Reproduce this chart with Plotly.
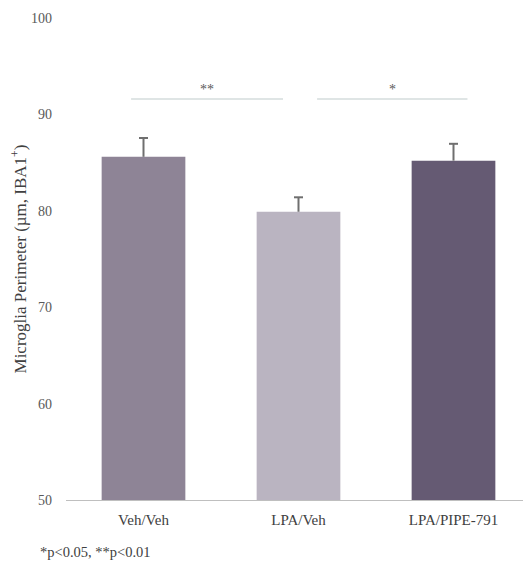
import plotly.graph_objects as go

categories = ["Veh/Veh", "LPA/Veh", "LPA/PIPE-791"]
means = [85.6, 79.9, 85.2]
sem = [1.95, 1.5, 1.75]
bar_colors = ["#8e8496", "#bab4c1", "#655a73"]
y_ticks = [50, 60, 70, 80, 90, 100]

# significance brackets: (from category index, to category index, y value, label)
sig_pairs = [(0, 1, 91.6, "**"), (1, 2, 91.6, "*")]

FONT = "Liberation Serif, Times New Roman, serif"

# page is rendered with an 8px body margin: size figure so the plot lands right
W, H = 523, 554
ML, MR, MT, MB = 58, 0, 10, 62
PW, PH = W - ML - MR, H - MT - MB

fig = go.Figure()
fig.add_trace(go.Bar(
    x=list(range(len(categories))), y=[m - 50 for m in means], base=50,
    marker=dict(color=bar_colors, line=dict(width=0)),
    width=0.54,
    showlegend=False,
    hoverinfo="skip",
))

# upward-only error bars (stem + top cap), built from the data arrays
cap = 4.5 / 155
ex, ey = [], []
for i, (m, s) in enumerate(zip(means, sem)):
    ex += [i, i, None, i - cap, i + cap, None]
    ey += [m, m + s, None, m + s, m + s, None]
fig.add_trace(go.Scatter(x=ex, y=ey, mode="lines",
                         line=dict(color="#6f6f6f", width=2),
                         showlegend=False, hoverinfo="skip"))

# bracket line offsets (in category units) relative to the compared bars
bracket_offsets = [(-0.08, -0.10), (0.12, 0.09)]
shapes = []
annotations = []
for (a, b, yv, lab), (o0, o1) in zip(sig_pairs, bracket_offsets):
    x0, x1 = a + o0, b + o1
    shapes.append(dict(type="line", xref="x", yref="y",
                       x0=x0, x1=x1, y0=yv, y1=yv,
                       line=dict(color="#d5dcdc", width=1.5)))
    annotations.append(dict(x=(x0 + x1) / 2, y=yv, xref="x", yref="y",
                            text=lab, showarrow=False, yanchor="bottom",
                            font=dict(family=FONT, size=14, color="#595959")))

# footnote at page pixel (38, 552)
annotations.append(dict(x=(38 - 8 - ML) / PW, y=(MT + PH - (552 - 8)) / PH,
                        xref="paper", yref="paper", text="*p<0.05, **p<0.01",
                        xanchor="left", yanchor="middle", showarrow=False,
                        font=dict(family=FONT, size=14.5, color="#404040")))

fig.update_layout(
    width=W, height=H,
    margin=dict(l=ML, r=MR, t=MT, b=MB),
    paper_bgcolor="white", plot_bgcolor="white",
    font=dict(family=FONT, size=14, color="#595959"),
    shapes=shapes,
    annotations=annotations,
)

fig.update_xaxes(
    range=[-0.5, 2.5], showline=True, linecolor="#bfbfbf", linewidth=1.2,
    tickvals=list(range(len(categories))), ticktext=categories,
    ticks="", showgrid=False, zeroline=False, ticklabelstandoff=6,
    tickfont=dict(family=FONT, size=15, color="#404040"),
)
fig.update_yaxes(
    range=[50, 100], tickvals=y_ticks, showline=False, showgrid=False, zeroline=False,
    ticks="", ticklabelstandoff=13,
    tickfont=dict(family=FONT, size=14, color="#595959"),
    title=dict(text="Microglia Perimeter (µm, IBA1<sup>+</sup>)", standoff=12,
               font=dict(family=FONT, size=17, color="#404040")),
)

fig.write_html("out.html")
